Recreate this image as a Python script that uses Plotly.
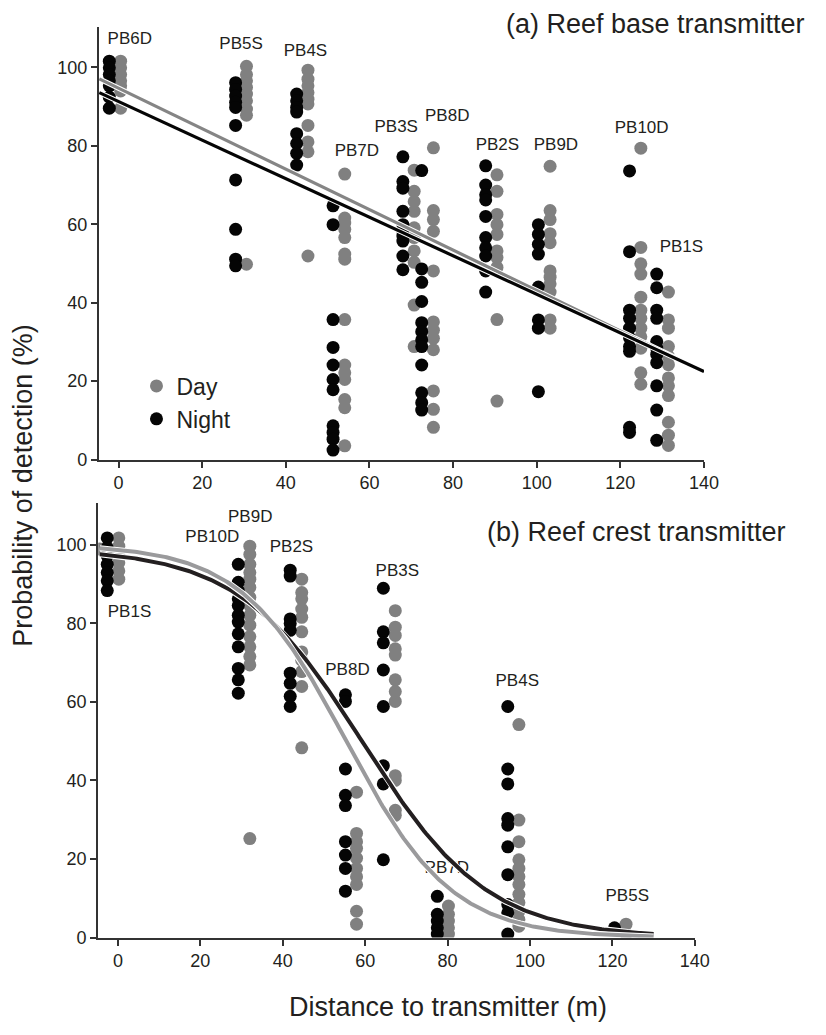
import numpy as np
import plotly.graph_objects as go

# ---------------- data: (a) reef base transmitter ----------------
top_labels = ["PB6D", "PB5S", "PB4S", "PB7D", "PB3S", "PB8D", "PB2S", "PB9D", "PB10D", "PB1S"]
top_label_x = [2.7, 29.3, 44.7, 57.0, 66.4, 78.6, 90.6, 104.6, 125.1, 134.6]
top_label_y = [107.1, 105.8, 104.1, 78.4, 84.5, 87.3, 80.1, 80.1, 84.3, 54.0]

top_night_x = [-2.2, 28.0, 42.6, 51.3, 68.0, 72.5, 87.8, 100.4, 122.2, 128.7]
top_day_x = [0.5, 30.6, 45.3, 54.1, 70.7, 75.3, 90.5, 103.2, 124.9, 131.5]

top_night_vals = [
    [101.6, 99.9, 98.2, 96.6, 95.3, 92.4, 89.6],
    [96.1, 94.4, 92.7, 91.1, 89.8, 85.2, 71.3, 58.7, 51.1, 49.4],
    [93.2, 91.5, 89.8, 88.6, 83.1, 80.6, 78.1, 75.1],
    [64.7, 59.9, 35.7, 28.6, 24.1, 20.4, 17.8, 8.6, 6.9, 5.2, 2.4],
    [77.2, 70.9, 69.2, 63.3, 59.9, 58.2, 57.0, 55.7, 51.9, 48.4],
    [73.7, 48.6, 45.2, 40.3, 34.9, 32.6, 30.5, 28.8, 24.1, 17.0, 14.5, 12.6],
    [74.9, 70.0, 67.5, 66.2, 62.0, 56.6, 54.0, 51.9, 48.1, 42.7],
    [59.9, 57.4, 54.9, 52.4, 44.0, 35.6, 33.5, 17.3],
    [73.6, 53.0, 38.1, 36.0, 33.5, 31.0, 28.8, 27.6, 8.2, 6.9],
    [47.3, 43.8, 38.1, 36.0, 30.1, 28.4, 26.8, 24.7, 18.8, 12.6, 4.9],
]
top_day_vals = [
    [101.6, 99.9, 98.2, 96.6, 95.3, 94.0, 89.6],
    [100.3, 98.2, 96.6, 94.9, 93.2, 91.5, 89.4, 87.8, 49.8],
    [99.3, 97.0, 95.3, 93.6, 91.9, 90.7, 85.2, 81.0, 78.5, 51.9],
    [72.8, 61.6, 60.3, 58.7, 56.6, 52.4, 51.1, 35.7, 24.1, 22.1, 20.4, 15.3, 13.2, 3.5],
    [73.8, 68.4, 65.8, 63.3, 59.1, 56.6, 53.2, 50.3, 39.4, 28.8],
    [79.5, 63.5, 61.2, 58.2, 48.1, 35.1, 33.0, 30.9, 28.0, 17.5, 12.8, 8.2],
    [72.6, 68.4, 62.5, 59.9, 57.4, 53.2, 51.5, 49.0, 35.7, 14.9],
    [74.8, 63.5, 61.2, 57.6, 55.3, 48.1, 46.5, 44.8, 42.7, 35.6, 33.5],
    [79.4, 54.1, 49.9, 47.3, 41.4, 38.1, 36.0, 33.5, 31.3, 28.4, 22.1, 19.2],
    [42.7, 35.6, 33.5, 28.8, 26.3, 24.2, 20.8, 18.8, 16.3, 9.5, 6.2, 3.6],
]
# linear fits (intercept, slope) and x extent
top_day_fit = (94.7, -0.516)
top_night_fit = (91.3, -0.4917)
top_fit_x = (-4.6, 140.0)

# ---------------- data: (b) reef crest transmitter ----------------
bot_labels = ["PB1S", "PB10D", "PB9D", "PB2S", "PB8D", "PB3S", "PB7D", "PB4S", "PB5S"]
bot_label_x = [2.8, 22.9, 32.1, 42.1, 55.7, 67.8, 79.8, 96.9, 123.6]
bot_label_y = [82.6, 101.7, 106.8, 99.2, 67.9, 93.1, 17.4, 65.2, 10.3]

bot_night_x = [-2.6, 29.2, 41.8, 55.2, 64.4, 77.5, 94.6, 120.5]
bot_day_x = [-4.4, 0.2, 32.0, 44.6, 57.9, 67.3, 80.2, 97.3, 123.3]

bot_night_vals = [
    [101.7, 99.2, 97.1, 95.0, 92.9, 90.8, 88.3],
    [95.0, 90.4, 88.3, 86.2, 84.5, 82.0, 80.3, 77.3, 74.0, 68.5, 65.6, 62.2],
    [93.5, 92.0, 81.1, 79.9, 78.2, 67.3, 64.7, 61.4, 58.8],
    [61.8, 60.1, 42.9, 36.2, 33.6, 24.4, 21.0, 17.6, 11.8],
    [88.9, 77.8, 75.0, 68.1, 58.8, 43.7, 39.1, 19.8],
    [10.5, 5.9, 4.2, 2.5, 0.9],
    [58.8, 42.9, 39.1, 30.3, 28.6, 23.1, 16.0, 8.4, 6.3, 0.9],
    [2.5],
]
bot_day_vals = [
    [98.9],
    [101.7, 99.6, 97.5, 95.4, 93.3, 91.2],
    [99.6, 97.5, 95.0, 92.9, 91.2, 89.1, 86.6, 84.5, 82.0, 79.5, 76.6, 74.0, 71.5, 69.4, 25.2],
    [91.2, 87.8, 86.2, 83.6, 81.5, 77.8, 72.7, 70.6, 67.7, 63.9, 48.3],
    [37.0, 26.5, 24.4, 22.7, 20.2, 17.6, 15.5, 13.5, 6.7, 3.4],
    [83.2, 79.0, 76.9, 73.5, 71.9, 65.6, 62.6, 60.1, 41.2, 40.0, 32.4, 31.1],
    [8.0, 5.9, 4.2, 2.5, 0.9],
    [54.2, 29.9, 24.4, 19.8, 17.6, 15.5, 13.5, 11.0, 8.9, 6.7, 4.6, 2.9],
    [3.4, 0.9],
]
# logistic fits (asymptote, slope k, midpoint x0) and x extent
bot_day_fit = (100.0, 0.078, 55.4)
bot_night_fit = (99.0, 0.066, 59.5)
bot_fit_x = (-4.4, 130.0)

# ---------------- styling ----------------
W, H = 826, 1035
FONT = "Liberation Sans, Arial, sans-serif"
DAY_C = "#808080"
NIGHT_C = "#050505"
AXIS_C = "#333333"
TXT_C = "#231f20"
NBSP = "\u00a0"


def flatten(xs, vals):
    fx, fy = [], []
    for x, vs in zip(xs, vals):
        for v in vs:
            fx.append(x)
            fy.append(v)
    return fx, fy


fig = go.Figure()


def add_panel(xa, ya, day_x, day_vals, night_x, night_vals, labels, lx, ly,
              lines, legend):
    dx, dy = flatten(day_x, day_vals)
    nx, ny = flatten(night_x, night_vals)
    fig.add_trace(go.Scatter(x=dx, y=dy, mode="markers", name="Day",
                             marker=dict(color=DAY_C, size=13, line=dict(width=0)),
                             xaxis=xa, yaxis=ya, showlegend=legend))
    fig.add_trace(go.Scatter(x=nx, y=ny, mode="markers", name="Night",
                             marker=dict(color=NIGHT_C, size=13, line=dict(width=0)),
                             xaxis=xa, yaxis=ya, showlegend=legend))
    fig.add_trace(go.Scatter(x=lx, y=ly, mode="text", text=labels,
                             textposition="middle center",
                             textfont=dict(family=FONT, size=17, color=TXT_C),
                             xaxis=xa, yaxis=ya, showlegend=False, hoverinfo="skip"))
    for (x, y, color, width) in lines:
        fig.add_trace(go.Scatter(x=x, y=y, mode="lines",
                                 line=dict(color="white", width=width + 2),
                                 xaxis=xa, yaxis=ya, showlegend=False, hoverinfo="skip"))
        fig.add_trace(go.Scatter(x=x, y=y, mode="lines",
                                 line=dict(color=color, width=width),
                                 xaxis=xa, yaxis=ya, showlegend=False))


# top panel fitted lines
tx = np.linspace(top_fit_x[0], top_fit_x[1], 50)
top_lines = [
    (tx, top_day_fit[0] + top_day_fit[1] * tx, "#858585", 3.2),
    (tx, top_night_fit[0] + top_night_fit[1] * tx, "#050505", 3.2),
]
add_panel("x", "y", top_day_x, top_day_vals, top_night_x, top_night_vals,
          top_labels, top_label_x, top_label_y, top_lines, True)

# bottom panel logistic curves
bx = np.linspace(bot_fit_x[0], bot_fit_x[1], 300)


def logistic(p, x):
    a, k, x0 = p
    return a / (1.0 + np.exp(k * (x - x0)))


bot_lines = [
    (bx, logistic(bot_night_fit, bx), "#231f20", 4),
    (bx, logistic(bot_day_fit, bx), "#9a9a9c", 4),
]
add_panel("x2", "y2", bot_day_x, bot_day_vals, bot_night_x, bot_night_vals,
          bot_labels, bot_label_x, bot_label_y, bot_lines, False)


def px_x(p):
    return p / W


def px_y(p):
    return 1 - p / H


axis_common = dict(showline=True, linecolor=AXIS_C, linewidth=2, ticks="outside",
                   ticklen=6, tickwidth=2, tickcolor=AXIS_C, showgrid=False,
                   zeroline=False, tickfont=dict(family=FONT, size=18, color=TXT_C),
                   fixedrange=True)
y_common = dict(tickvals=[0, 20, 40, 60, 80, 100], ticksuffix=NBSP * 3, **axis_common)
x_common = dict(tickvals=[0, 20, 40, 60, 80, 100, 120, 140], **axis_common)

fig.update_layout(
    width=W, height=H,
    margin=dict(l=0, r=0, t=0, b=0),
    paper_bgcolor="white", plot_bgcolor="white",
    font=dict(family=FONT, color=TXT_C),
    xaxis=dict(domain=[px_x(100.7), px_x(717)], range=[-4.7, 140], anchor="y",
               **x_common),
    yaxis=dict(domain=[px_y(464), px_y(27.3)], range=[0, 110.3], anchor="x",
               **y_common),
    xaxis2=dict(domain=[px_x(100), px_x(707.7)], range=[-4.8, 140], anchor="y2",
                **x_common),
    yaxis2=dict(domain=[px_y(946.7), px_y(508.3)], range=[0, 110.5], anchor="x2",
                **y_common),
    legend=dict(x=px_x(139), y=px_y(368), xanchor="left", yanchor="top",
                font=dict(family=FONT, size=23, color=TXT_C),
                bgcolor="rgba(0,0,0,0)", itemsizing="trace", tracegroupgap=0),
    showlegend=True,
    annotations=[
        dict(text="(a) Reef base transmitter", x=px_x(822), y=px_y(24),
             xref="paper", yref="paper", xanchor="right", yanchor="middle",
             showarrow=False, font=dict(family=FONT, size=27, color=TXT_C)),
        dict(text="(b) Reef crest transmitter", x=px_x(803), y=px_y(537),
             xref="paper", yref="paper", xanchor="right", yanchor="middle",
             showarrow=False, font=dict(family=FONT, size=27, color=TXT_C)),
        dict(text="Probability of detection (%)", x=px_x(24), y=px_y(490),
             xref="paper", yref="paper", xanchor="center", yanchor="middle",
             textangle=-90, showarrow=False,
             font=dict(family=FONT, size=27, color=TXT_C)),
        dict(text="Distance to transmitter (m)", x=px_x(456), y=px_y(1017),
             xref="paper", yref="paper", xanchor="center", yanchor="middle",
             showarrow=False, font=dict(family=FONT, size=27, color=TXT_C)),
    ],
)

fig.write_html("out.html")
